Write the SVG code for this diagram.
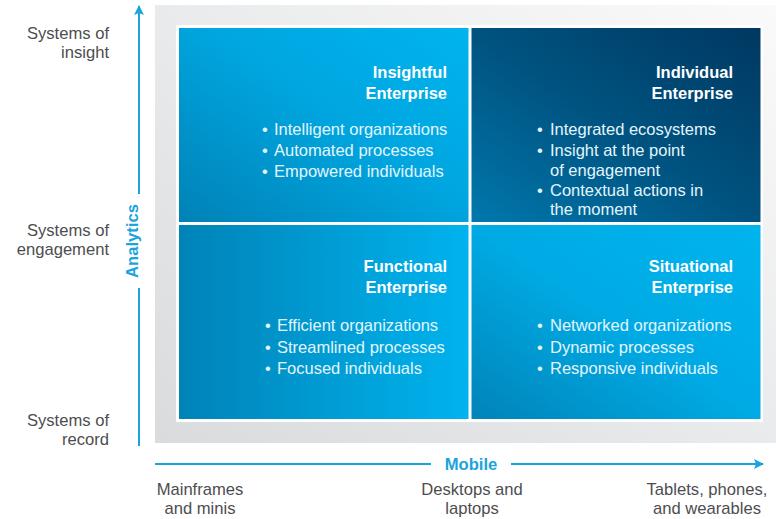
<svg xmlns="http://www.w3.org/2000/svg" width="776" height="519" viewBox="0 0 776 519">
<defs>
<linearGradient id="gPanel" x1="0" y1="1" x2="1" y2="0">
<stop offset="0" stop-color="#d9dbdd"/><stop offset="1" stop-color="#fafafa"/>
</linearGradient>
<linearGradient id="gTL" x1="0" y1="1" x2="1" y2="0">
<stop offset="0" stop-color="#0082b6"/><stop offset="0.55" stop-color="#00a6e0"/><stop offset="1" stop-color="#00b4ee"/>
</linearGradient>
<linearGradient id="gTR" x1="0" y1="1" x2="1" y2="0">
<stop offset="0" stop-color="#0078ad"/><stop offset="0.5" stop-color="#00527f"/><stop offset="1" stop-color="#003861"/>
</linearGradient>
<linearGradient id="gBL" x1="0" y1="0" x2="1" y2="0">
<stop offset="0" stop-color="#0083b7"/><stop offset="1" stop-color="#00b3ee"/>
</linearGradient>
<linearGradient id="gBR" x1="0" y1="1" x2="1" y2="0">
<stop offset="0" stop-color="#0084b8"/><stop offset="0.5" stop-color="#00aae4"/><stop offset="1" stop-color="#00b4ee"/>
</linearGradient>
<marker id="arr" markerWidth="10" markerHeight="10" refX="9" refY="5" orient="auto" markerUnits="userSpaceOnUse">
<path d="M0,0 L10,5 L0,10 L2,5 Z" fill="#1aa3dc"/>
</marker>
</defs>
<style>
.title{font-family:"Liberation Sans",Arial,sans-serif;font-weight:bold;font-size:16.5px;fill:#fff;text-anchor:end}
.item{font-family:"Liberation Sans",Arial,sans-serif;font-size:16.5px;fill:#e3f5fc}
.lbl{font-family:"Liberation Sans",Arial,sans-serif;font-size:16.6px;fill:#4d4d4f}
.axis{font-family:"Liberation Sans",Arial,sans-serif;font-weight:bold;font-size:16.6px;fill:#1aa3dc}
.ax{stroke:#1aa3dc;stroke-width:2;fill:none}
</style>
<rect x="155" y="5" width="621" height="438" fill="url(#gPanel)"/>
<rect x="176" y="25" width="587" height="397" fill="#fff"/>

<g id="insightful">
<rect x="179" y="28" width="289.5" height="194" fill="url(#gTL)"/>
<text class="title" x="447" y="78">Insightful</text>
<text class="title" x="447" y="99">Enterprise</text>
<g class="item">
<text x="262" y="135">•</text><text x="274" y="135">Intelligent organizations</text>
<text x="262" y="156">•</text><text x="274" y="156">Automated processes</text>
<text x="262" y="177">•</text><text x="274" y="177">Empowered individuals</text>
</g>
</g>

<g id="individual">
<rect x="471.5" y="28" width="289" height="194" fill="url(#gTR)"/>
<text class="title" x="733" y="78">Individual</text>
<text class="title" x="733" y="99">Enterprise</text>
<g class="item">
<text x="537" y="135">•</text><text x="550" y="135">Integrated ecosystems</text>
<text x="537" y="156">•</text><text x="550" y="156">Insight at the point</text>
<text x="550" y="176">of engagement</text>
<text x="537" y="196">•</text><text x="550" y="196">Contextual actions in</text>
<text x="550" y="215">the moment</text>
</g>
</g>

<g id="functional">
<rect x="179" y="225" width="289.5" height="194" fill="url(#gBL)"/>
<text class="title" x="447" y="272">Functional</text>
<text class="title" x="447" y="293">Enterprise</text>
<g class="item">
<text x="265" y="331">•</text><text x="277" y="331">Efficient organizations</text>
<text x="265" y="353">•</text><text x="277" y="353">Streamlined processes</text>
<text x="265" y="374">•</text><text x="277" y="374">Focused individuals</text>
</g>
</g>

<g id="situational">
<rect x="471.5" y="225" width="289" height="194" fill="url(#gBR)"/>
<text class="title" x="733" y="272">Situational</text>
<text class="title" x="733" y="293">Enterprise</text>
<g class="item">
<text x="537" y="331">•</text><text x="550" y="331">Networked organizations</text>
<text x="537" y="353">•</text><text x="550" y="353">Dynamic processes</text>
<text x="537" y="374">•</text><text x="550" y="374">Responsive individuals</text>
</g>
</g>

<g id="connectors">
<line class="ax" x1="139" y1="446" x2="139" y2="288"/>
<line class="ax" x1="139" y1="194" x2="139" y2="6" marker-end="url(#arr)"/>
<line class="ax" x1="155" y1="464" x2="431" y2="464"/>
<line class="ax" x1="511" y1="464" x2="763" y2="464" marker-end="url(#arr)"/>
</g>

<g id="axis-labels">
<text class="axis" transform="translate(139,241) rotate(-90)" text-anchor="middle" dy="-1">Analytics</text>
<text class="axis" x="471" y="470" text-anchor="middle">Mobile</text>
</g>

<g id="y-labels" class="lbl" text-anchor="end">
<text x="109" y="39">Systems of</text>
<text x="109" y="57.5">insight</text>
<text x="109" y="236">Systems of</text>
<text x="109" y="254.5">engagement</text>
<text x="109" y="426">Systems of</text>
<text x="109" y="444.5">record</text>
</g>

<g id="x-labels" class="lbl" text-anchor="middle">
<text x="200" y="495">Mainframes</text>
<text x="200" y="513.5">and minis</text>
<text x="472" y="495">Desktops and</text>
<text x="472" y="513.5">laptops</text>
<text x="707" y="495">Tablets, phones,</text>
<text x="707" y="513.5">and wearables</text>
</g>
</svg>
